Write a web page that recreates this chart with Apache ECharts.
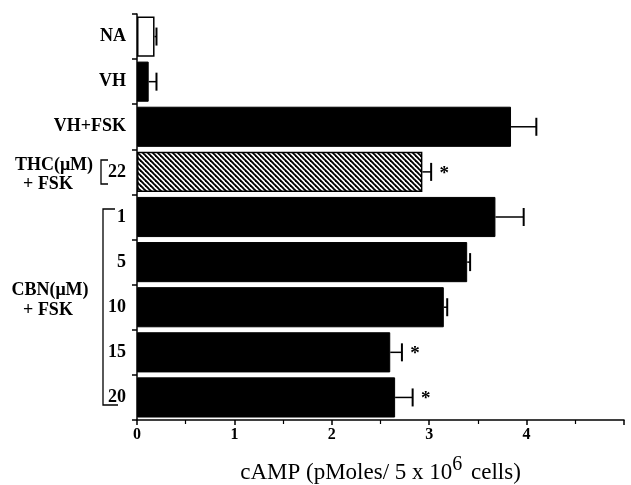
<!DOCTYPE html>
<html>
<head>
<meta charset="utf-8">
<script src="https://cdn.jsdelivr.net/npm/echarts@6/dist/echarts.min.js"></script>
<style>html,body{margin:0;padding:0;background:#fff}#c{width:631px;height:485px}</style>
</head>
<body>
<div id="c"></div>
<script>
const categories = ['NA', 'VH', 'VH+FSK', '22', '1', '5', '10', '15', '20'];
const values = [0.18, 0.12, 3.84, 2.93, 3.68, 3.39, 3.15, 2.60, 2.65];
const errors = [0.02, 0.08, 0.26, 0.09, 0.29, 0.03, 0.035, 0.12, 0.18];
const significant = [0, 0, 0, 1, 0, 0, 0, 1, 1];
const xTicks = ['0', '1', '2', '3', '4', ''];

const SERIF = '"Liberation Serif", "Times New Roman", serif';

// hatch pattern for THC bar
const pc = document.createElement('canvas');
const S = 5;
pc.width = S; pc.height = S;
const g = pc.getContext('2d');
g.fillStyle = '#fff'; g.fillRect(0, 0, S, S);
g.strokeStyle = '#000'; g.lineWidth = 1.9;
for (let k = -1; k <= 1; k++) {
  g.beginPath();
  g.moveTo(k * S - 1, -1);
  g.lineTo(k * S + S + 1, S + 1);
  g.stroke();
}

const barData = values.map((v, i) => {
  let itemStyle = { color: '#000', borderColor: '#000', borderWidth: 1 };
  if (categories[i] === 'NA') itemStyle = { color: '#fff', borderColor: '#000', borderWidth: 1.5 };
  if (categories[i] === '22') itemStyle = { color: { image: pc, repeat: 'repeat' }, borderColor: '#000', borderWidth: 1.5 };
  return { value: v, itemStyle };
});

const errData = values.map((v, i) => [v, i, errors[i], significant[i]]);

const chart = echarts.init(document.getElementById('c'), null, { renderer: 'canvas' });
chart.setOption({
  animation: false,
  backgroundColor: '#fff',
  grid: { left: 137, right: 7, top: 14, bottom: 65, containLabel: false, outerBoundsMode: 'none' },
  xAxis: {
    type: 'value', min: 0, max: 5, interval: 1,
    axisLine: { show: true, lineStyle: { color: '#000', width: 1.5 } },
    axisTick: { show: true, length: 5, lineStyle: { color: '#000', width: 1.5 } },
    minorTick: { show: true, splitNumber: 2, length: 4, lineStyle: { color: '#000', width: 1.2 } },
    splitLine: { show: false },
    axisLabel: {
      color: '#000', fontFamily: SERIF, fontWeight: 'bold', fontSize: 16, margin: 7,
      formatter: (v) => xTicks[Math.round(v)] ?? ''
    },
    name: 'cAMP (pMoles/ 5 x 10{sup|6} cells)',
    nameLocation: 'middle',
    nameGap: 35,
    nameTextStyle: {
      color: '#000', fontFamily: SERIF, fontSize: 23,
      rich: {
        sup: { fontFamily: SERIF, fontSize: 20, color: '#000', padding: [0, 3, 15, 0] }
      }
    }
  },
  yAxis: {
    type: 'category', data: categories, inverse: true,
    axisLine: { show: true, lineStyle: { color: '#000', width: 1.5 } },
    axisTick: { show: true, length: 5, lineStyle: { color: '#000', width: 1.5 } },
    axisLabel: { color: '#000', fontFamily: SERIF, fontWeight: 'bold', fontSize: 18, margin: 11 }
  },
  series: [
    {
      type: 'bar', data: barData, barCategoryGap: '11%', z: 2
    },
    {
      type: 'custom', data: errData, z: 3,
      encode: { x: 0, y: 1 },
      renderItem: function (params, api) {
        const v = api.value(0), idx = api.value(1), e = api.value(2), sig = api.value(3);
        const p0 = api.coord([v, idx]);
        const p1 = api.coord([v + e, idx]);
        const h = 9;
        const children = [
          { type: 'line', shape: { x1: p0[0], y1: p0[1], x2: p1[0], y2: p1[1] }, style: { stroke: '#000', lineWidth: 1.5 } },
          { type: 'line', shape: { x1: p1[0], y1: p1[1] - h, x2: p1[0], y2: p1[1] + h }, style: { stroke: '#000', lineWidth: 2 } }
        ];
        if (sig) {
          children.push({
            type: 'text',
            style: { x: p1[0] + 13, y: p1[1] + 2, text: '*', fill: '#000', font: 'bold 19px ' + SERIF, align: 'center', verticalAlign: 'middle' }
          });
        }
        return { type: 'group', children };
      }
    }
  ],
  graphic: [
    { type: 'text', style: { x: 54, y: 165, text: 'THC(μM)', fill: '#000', font: 'bold 18px ' + SERIF, align: 'center', verticalAlign: 'middle' } },
    { type: 'text', style: { x: 48, y: 184, text: '+ FSK', fill: '#000', font: 'bold 18px ' + SERIF, align: 'center', verticalAlign: 'middle' } },
    { type: 'polyline', shape: { points: [[108, 160], [101, 160], [101, 184], [108, 184]] }, style: { stroke: '#000', lineWidth: 1.3, fill: null } },
    { type: 'text', style: { x: 50, y: 290, text: 'CBN(μM)', fill: '#000', font: 'bold 18px ' + SERIF, align: 'center', verticalAlign: 'middle' } },
    { type: 'text', style: { x: 48, y: 310, text: '+ FSK', fill: '#000', font: 'bold 18px ' + SERIF, align: 'center', verticalAlign: 'middle' } },
    { type: 'polyline', shape: { points: [[115, 209], [103, 209], [103, 405], [118, 405]] }, style: { stroke: '#000', lineWidth: 1.3, fill: null } }
  ]
});
</script>
</body>
</html>
